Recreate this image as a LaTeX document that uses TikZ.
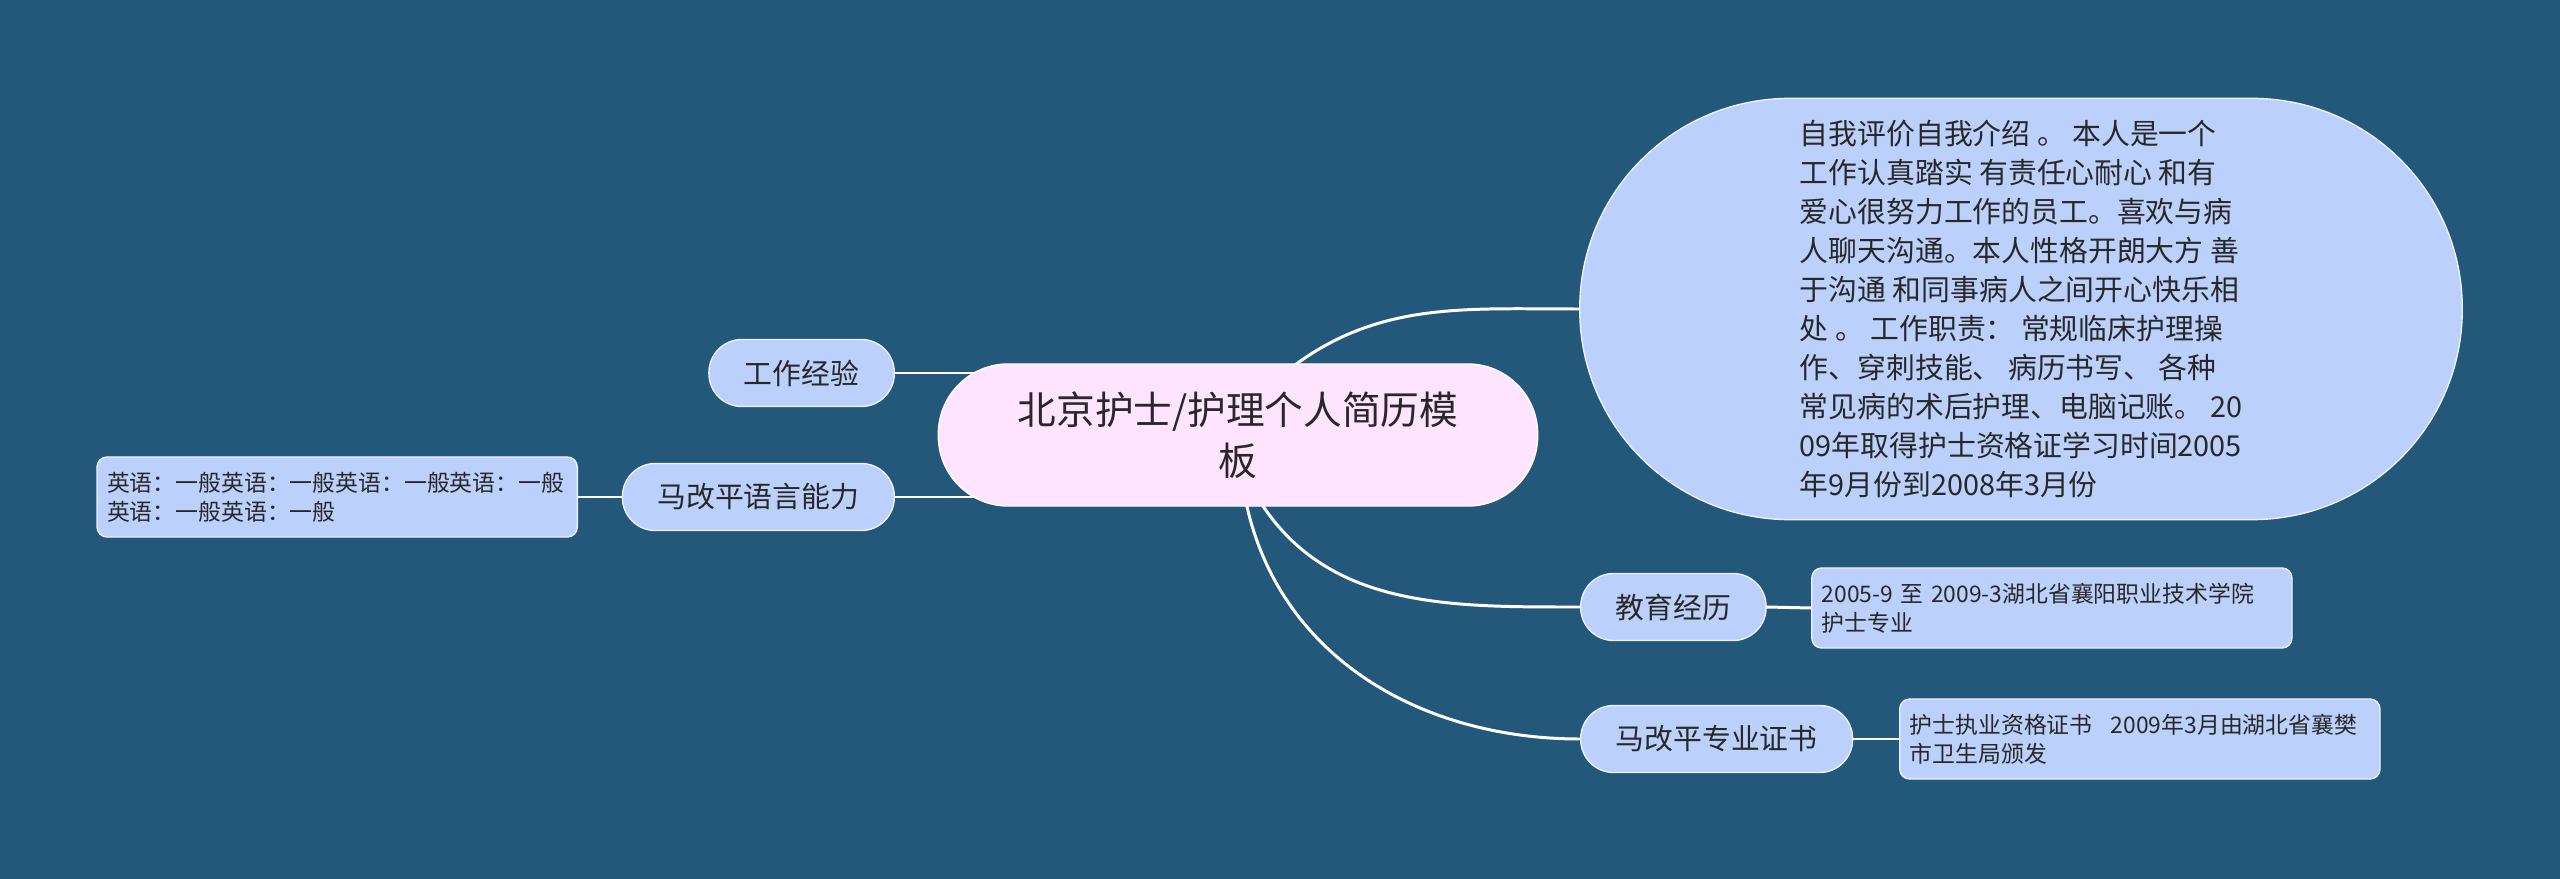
\documentclass[tikz,border=0pt]{standalone}
\usepackage{fontspec}
\newfontfamily\cjk{Noto Sans CJK SC}
\usetikzlibrary{positioning, calc}
\definecolor{bgblue}{RGB}{36,88,122}
\definecolor{nodeblue}{RGB}{188,208,252}
\definecolor{rootpink}{RGB}{255,228,255}
\definecolor{textgray}{RGB}{40,40,40}
\pgfdeclarelayer{back}
\pgfdeclarelayer{edges}
\pgfsetlayers{back,edges,main}

\begin{document}
\begin{tikzpicture}[
    x=0.01cm, y=0.01cm,
    every node/.style={font=\cjk, text=textgray},
    root/.style={draw=white!85!rootpink, line width=0.4pt, fill=rootpink, rounded corners=0.7cm, minimum width=5.99cm, minimum height=1.42cm, align=center, font=\cjk\fontsize{11}{14.5}\selectfont},
    branch/.style={draw=white!70!nodeblue, line width=0.4pt, fill=nodeblue, rounded corners=0.33cm, minimum height=0.67cm, inner xsep=0.35cm, font=\cjk\fontsize{8.2}{10}\selectfont},
    bubble/.style={draw=white!70!nodeblue, line width=0.4pt, fill=nodeblue, rounded corners=2.1cm, minimum width=8.82cm, minimum height=4.21cm, align=left, font=\cjk\fontsize{8.2}{11.1}\selectfont},
    leaf/.style={draw=white!70!nodeblue, line width=0.4pt, fill=nodeblue, rounded corners=0.1cm, minimum height=0.8cm, text width=4.6cm, inner xsep=0.1cm, align=left, font=\cjk\fontsize{6.5}{8.3}\selectfont},
    link/.style={draw=white, line width=0.85pt}
]
\useasboundingbox (0,0) rectangle (2560,-879);
\begin{pgfonlayer}{back}
\fill[bgblue] (0,0) rectangle (2560,-879);
\end{pgfonlayer}

% centre and the bubble
\node[root] (root) at (1238,-435) {北京护士/护理个人简历模\\板};
\node[bubble] (self) at (2021,-309) {自我评价自我介绍 。 本人是一个\\工作认真踏实 有责任心耐心 和有\\爱心很努力工作的员工。喜欢与病\\人聊天沟通。本人性格开朗大方 善\\于沟通 和同事病人之间开心快乐相\\处 。 工作职责： 常规临床护理操\\作、穿刺技能、 病历书写、 各种\\常见病的术后护理、电脑记账。 20\\09年取得护士资格证学习时间2005\\年9月份到2008年3月份};

% branches
\node[branch, anchor=east] (work) at (895,-373) {工作经验};
\node[branch, anchor=east] (lang) at (895,-497) {马改平语言能力};
\node[branch, anchor=west] (edu) at (1580,-607) {教育经历};
\node[branch, anchor=west] (cert) at (1580,-739) {马改平专业证书};

% leaves
\node[leaf, anchor=east] (langleaf) at (578,-497) {英语：一般英语：一般英语：一般英语：一般\\英语：一般英语：一般};
\node[leaf, anchor=west] (eduleaf) at (1811,-608) {2005-9 至 2009-3湖北省襄阳职业技术学院\\护士专业};
\node[leaf, anchor=west] (certleaf) at (1899,-739) {护士执业资格证书\hspace{0.8em}2009年3月由湖北省襄樊\\市卫生局颁发};

\begin{pgfonlayer}{edges}
\draw[link] (work.east) -- (work.east -| root.center);
\draw[link] (lang.east) -- (lang.east -| root.center);
\draw[link] ($(root.north)+(40,-15)$) to[out=40, in=180] (self.west);
\draw[link] ($(root.south)+(16,15)$) to[out=-60, in=180] (edu.west);
\draw[link] ($(root.south)+(6,15)$) to[out=-80, in=180] (cert.west);
\draw[link] (lang.west) -- (langleaf.east);
\draw[link] (edu.east) -- (eduleaf.west);
\draw[link] (cert.east) -- (certleaf.west);
\end{pgfonlayer}
\end{tikzpicture}
\end{document}
